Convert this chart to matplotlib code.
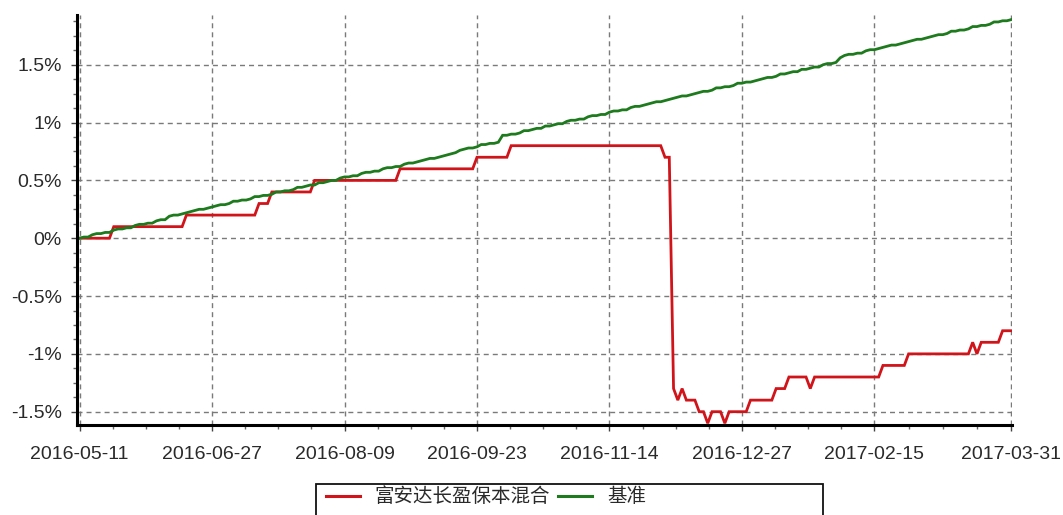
import matplotlib
matplotlib.use('Agg')
import matplotlib.pyplot as plt
from matplotlib.ticker import FixedLocator, FuncFormatter, MultipleLocator
from matplotlib.patches import Rectangle

# ---- data (returns in %) ----
tick_labels = ['2016-05-11', '2016-06-27', '2016-08-09', '2016-09-23',
               '2016-11-14', '2016-12-27', '2017-02-15', '2017-03-31']
tick_index = [0, 31, 62, 93, 124, 155, 186, 218]

fund_name = '富安达长盈保本混合'
bench_name = '基准'

fund = [
    # May
    0.0, 0.0, 0.0, 0.0, 0.0, 0.0, 0.0, 0.0, 0.1, 0.1, 0.1, 0.1, 0.1, 0.1, 0.1,
    # Jun
    0.1, 0.1, 0.1, 0.1, 0.1, 0.1, 0.1, 0.1, 0.1, 0.1, 0.2, 0.2, 0.2, 0.2, 0.2,
    0.2, 0.2, 0.2, 0.2, 0.2,
    # Jul
    0.2, 0.2, 0.2, 0.2, 0.2, 0.2, 0.2, 0.3, 0.3, 0.3, 0.4, 0.4, 0.4, 0.4, 0.4,
    0.4, 0.4, 0.4, 0.4, 0.4, 0.5,
    # Aug
    0.5, 0.5, 0.5, 0.5, 0.5, 0.5, 0.5, 0.5, 0.5, 0.5, 0.5, 0.5, 0.5, 0.5, 0.5,
    0.5, 0.5, 0.5, 0.5, 0.6, 0.6, 0.6, 0.6,
    # Sep
    0.6, 0.6, 0.6, 0.6, 0.6, 0.6, 0.6, 0.6, 0.6, 0.6, 0.6, 0.6, 0.6, 0.6, 0.7,
    0.7, 0.7, 0.7, 0.7, 0.7,
    # Oct
    0.7, 0.7, 0.8, 0.8, 0.8, 0.8, 0.8, 0.8, 0.8, 0.8, 0.8, 0.8, 0.8, 0.8, 0.8,
    0.8,
    # Nov
    0.8, 0.8, 0.8, 0.8, 0.8, 0.8, 0.8, 0.8, 0.8, 0.8, 0.8, 0.8, 0.8, 0.8, 0.8,
    0.8, 0.8, 0.8, 0.8, 0.8, 0.8, 0.8,
    # Dec
    0.7, 0.7, -1.3, -1.4, -1.3, -1.4, -1.4, -1.4, -1.5, -1.5, -1.6, -1.5, -1.5,
    -1.5, -1.6, -1.5, -1.5, -1.5, -1.5, -1.5, -1.4, -1.4, -1.4,
    # Jan
    -1.4, -1.4, -1.4, -1.3, -1.3, -1.3, -1.2, -1.2, -1.2, -1.2, -1.2, -1.3,
    -1.2, -1.2, -1.2, -1.2, -1.2, -1.2,
    # Feb
    -1.2, -1.2, -1.2, -1.2, -1.2, -1.2, -1.2, -1.2, -1.2, -1.2, -1.1, -1.1,
    -1.1, -1.1, -1.1, -1.1, -1.0, -1.0,
    # Mar
    -1.0, -1.0, -1.0, -1.0, -1.0, -1.0, -1.0, -1.0, -1.0, -1.0, -1.0, -1.0,
    -1.0, -0.9, -1.0, -0.9, -0.9, -0.9, -0.9, -0.9, -0.8, -0.8, -0.8,
]

bench = [
    # May
    0.00, 0.01, 0.01, 0.03, 0.04, 0.04, 0.05, 0.05, 0.07, 0.08, 0.08, 0.09, 0.09, 0.11, 0.12,
    # Jun
    0.12, 0.13, 0.13, 0.15, 0.16, 0.16, 0.19, 0.20, 0.20, 0.21, 0.22, 0.23, 0.24, 0.25, 0.25,
    0.26, 0.27, 0.28, 0.29, 0.29,
    # Jul
    0.30, 0.32, 0.32, 0.33, 0.33, 0.34, 0.36, 0.36, 0.37, 0.37, 0.38, 0.40, 0.40, 0.41, 0.41,
    0.42, 0.44, 0.44, 0.45, 0.46, 0.46,
    # Aug
    0.48, 0.48, 0.49, 0.50, 0.50, 0.52, 0.53, 0.53, 0.54, 0.54, 0.56, 0.57, 0.57, 0.58, 0.58,
    0.60, 0.61, 0.61, 0.62, 0.62, 0.64, 0.65, 0.65,
    # Sep
    0.66, 0.67, 0.68, 0.69, 0.69, 0.70, 0.71, 0.72, 0.73, 0.74, 0.76, 0.77, 0.78, 0.78, 0.79,
    0.81, 0.81, 0.82, 0.82, 0.83,
    # Oct
    0.89, 0.89, 0.90, 0.90, 0.91, 0.93, 0.93, 0.94, 0.95, 0.95, 0.97, 0.97, 0.98, 0.99, 0.99,
    1.01,
    # Nov
    1.02, 1.02, 1.03, 1.03, 1.05, 1.06, 1.06, 1.07, 1.07, 1.09, 1.10, 1.10, 1.11, 1.11, 1.13,
    1.14, 1.14, 1.15, 1.16, 1.17, 1.18, 1.18,
    # Dec
    1.19, 1.20, 1.21, 1.22, 1.23, 1.23, 1.24, 1.25, 1.26, 1.27, 1.27, 1.28, 1.30, 1.30, 1.31,
    1.31, 1.32, 1.34, 1.34, 1.35, 1.35, 1.36, 1.37,
    # Jan
    1.38, 1.39, 1.39, 1.40, 1.42, 1.42, 1.43, 1.44, 1.44, 1.46, 1.46, 1.47, 1.48, 1.48, 1.50,
    1.51, 1.51, 1.52,
    # Feb
    1.56, 1.58, 1.59, 1.59, 1.60, 1.60, 1.62, 1.63, 1.63, 1.64, 1.65, 1.66, 1.67, 1.67, 1.68,
    1.69, 1.70, 1.71,
    # Mar
    1.72, 1.72, 1.73, 1.74, 1.75, 1.76, 1.76, 1.77, 1.79, 1.79, 1.80, 1.80, 1.81, 1.83, 1.83,
    1.84, 1.84, 1.85, 1.87, 1.87, 1.88, 1.88, 1.89,
]

y_ticks = [-1.5, -1.0, -0.5, 0.0, 0.5, 1.0, 1.5]

# ---- style ----
plt.rcParams['font.family'] = ['Liberation Sans', 'Noto Sans CJK SC', 'DejaVu Sans']
plt.rcParams['lines.scale_dashes'] = False

W, H = 1063, 515
fig = plt.figure(figsize=(W / 100, H / 100), dpi=100)
fig.patch.set_facecolor('white')

left_px, right_px, top_px, bottom_px = 77, 1012, 15, 425
ax = fig.add_axes([left_px / W, 1 - bottom_px / H,
                   (right_px - left_px) / W, (bottom_px - top_px) / H])

x = list(range(len(fund)))
l1, = ax.plot(x, fund, color='#d0141a', lw=2.0, label=fund_name, zorder=3,
              solid_joinstyle='miter')
l2, = ax.plot(x, bench, color='#1d7a1d', lw=2.0, label=bench_name, zorder=4,
              solid_joinstyle='miter')

ax.set_xlim(-0.6, 218.2)
ax.set_ylim(-1.615, 1.93)

# x ticks
ax.xaxis.set_major_locator(FixedLocator(tick_index))
ax.set_xticklabels(tick_labels)
minor = []
for a, b in zip(tick_index[:-1], tick_index[1:]):
    for k in (1, 2, 3):
        minor.append(a + (b - a) * k / 4)
ax.xaxis.set_minor_locator(FixedLocator(minor))

# y ticks
ax.yaxis.set_major_locator(FixedLocator(y_ticks))
ax.yaxis.set_minor_locator(MultipleLocator(0.125))
ax.yaxis.set_major_formatter(FuncFormatter(lambda v, p: ('%g' % v) + '%'))

ax.tick_params(axis='both', which='major', direction='out', length=4, width=1,
               color='#444444', labelsize=14, labelcolor='#2a2a2a')
ax.tick_params(axis='both', which='minor', direction='out', length=3, width=1,
               color='#666666')
ax.tick_params(axis='x', which='major', pad=11)
ax.tick_params(axis='y', which='major', pad=7)

for s in ('top', 'right'):
    ax.spines[s].set_visible(False)
for s in ('left', 'bottom'):
    ax.spines[s].set_color('black')
    ax.spines[s].set_linewidth(2.2)
    ax.spines[s].set_zorder(5)

ax.grid(True, which='major', color='#7a7a7a', linestyle=(0, (3.6, 2.9)),
        linewidth=1.0)
ax.set_axisbelow(True)

# ---- legend ----
box_l, box_r, box_t = 316, 823, 484
fig.patches.append(Rectangle((box_l / W, -0.05), (box_r - box_l) / W,
                             (1 - box_t / H) + 0.05, transform=fig.transFigure,
                             facecolor='white', edgecolor='#111111', lw=1.3))
leg = fig.legend(handles=[l1, l2], labels=[fund_name, bench_name],
                 loc='center left', bbox_to_anchor=(310 / W, 1 - 497 / H),
                 ncol=2, frameon=False, fontsize=14, handlelength=1.75,
                 handletextpad=0.75, columnspacing=0.45, borderpad=0.3,
                 labelcolor='#2a2a2a')
for t in leg.get_texts():
    t.set_family(['Noto Sans CJK SC', 'DejaVu Sans'])
for h in leg.legend_handles:
    h.set_linewidth(2.2)

fig.savefig('out.png', dpi=100, facecolor='white')
